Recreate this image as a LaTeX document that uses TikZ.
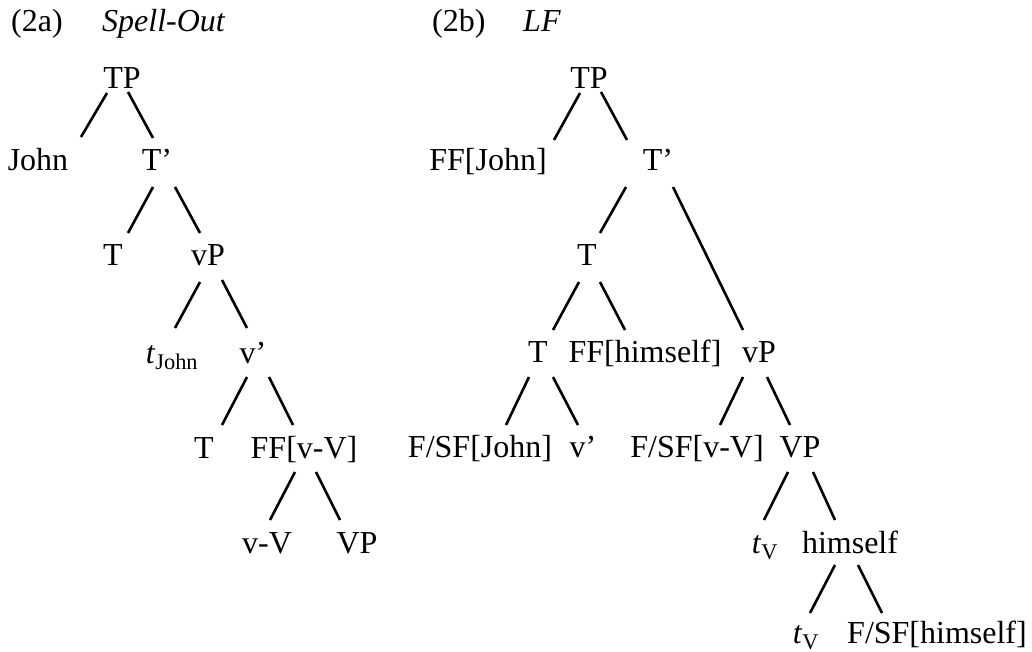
\documentclass[tikz,border=0pt]{standalone}
\usepackage{fontspec}
\setmainfont{Liberation Serif}
\usetikzlibrary{calc}
\tikzset{
  lbl/.style={anchor=base, inner sep=0pt, font=\fontsize{32}{38}\selectfont},
  hdr/.style={anchor=base west, inner sep=0pt, font=\fontsize{32}{38}\selectfont},
  branch/.style={line width=2.6pt, line cap=butt},
}
\newcommand\brl[4]{\draw[branch] ($(#1.base)+(#2)$) -- ($(#3.base)+(#4)$);}
\begin{document}
\begin{tikzpicture}[x=1pt,y=-1pt]
\useasboundingbox (0,0) rectangle (1032,652);
% headers
\node[hdr] (h2a) at (11,32) {(2a)};
\node[hdr] (hso) at (102,32) {\textit{Spell-Out}};
\node[hdr] (h2b) at (432,32) {(2b)};
\node[hdr] (hlf) at (523,32) {\textit{LF}};
% left tree
\node[lbl] (TPa) at (122,89) {TP};
\node[lbl] (John) at (38,171) {John};
\node[lbl] (Tpa) at (157,171) {T'};
\node[lbl] (Ta) at (113,265) {T};
\node[lbl] (vPa) at (208,265) {vP};
\node[lbl] (tJohn) at (172,363) {\textit{t}\textsubscript{John}};
\node[lbl] (vpa) at (253,363) {v'};
\node[lbl] (Ta2) at (204,458) {T};
\node[lbl] (FFvV) at (304,458) {FF[v-V]};
\node[lbl] (vV) at (267,553) {v-V};
\node[lbl] (VPa) at (357,553) {VP};
% right tree
\node[lbl] (TPb) at (589,89) {TP};
\node[lbl] (FFJohn) at (488,171) {FF[John]};
\node[lbl] (Tpb) at (658,171) {T'};
\node[lbl] (Tb) at (587,265) {T};
\node[lbl] (Tb2) at (538,362) {T};
\node[lbl] (FFhimself) at (645,362) {FF[himself]};
\node[lbl] (vPb) at (759,362) {vP};
\node[lbl] (FSFJohn) at (480,457) {F/SF[John]};
\node[lbl] (vpb) at (583,457) {v'};
\node[lbl] (FSFvV) at (697,457) {F/SF[v-V]};
\node[lbl] (VPb) at (800,457) {VP};
\node[lbl] (tV) at (765,553) {\textit{t}\textsubscript{V}};
\node[lbl] (himself) at (850,553) {himself};
\node[lbl] (tV2) at (806,643) {\textit{t}\textsubscript{V}};
\node[lbl] (FSFhimself) at (937,643) {F/SF[himself]};
% left branches
\brl{TPa}{-15,4}{John}{43,-34}
\brl{TPa}{6,3}{Tpa}{-4,-33}
\brl{Tpa}{-4,16}{Ta}{15,-32}
\brl{Tpa}{18,16}{vPa}{-8,-32}
\brl{vPa}{-8,17}{tJohn}{3,-35}
\brl{vPa}{14,15}{vpa}{-6,-35}
\brl{vpa}{-6,14}{Ta2}{18,-33}
\brl{vpa}{16,14}{FFvV}{-11,-33}
\brl{FFvV}{-9,14}{vV}{3,-33}
\brl{FFvV}{12,14}{VPa}{-17,-33}
% right branches
\brl{TPb}{-9,4}{FFJohn}{66,-31}
\brl{TPb}{12,3}{Tpb}{-31,-31}
\brl{Tpb}{-32,16}{Tb}{13,-32}
\brl{Tpb}{15,16}{vPb}{-16,-32}
\brl{Tb}{-8,17}{Tb2}{15,-32}
\brl{Tb}{13,17}{FFhimself}{-20,-32}
\brl{Tb2}{-9,15}{FSFJohn}{26,-32}
\brl{Tb2}{15,15}{vpb}{-5,-32}
\brl{vPb}{-16,15}{FSFvV}{23,-32}
\brl{vPb}{8,15}{VPb}{-10,-32}
\brl{VPb}{-12,15}{tV}{-1,-33}
\brl{VPb}{13,15}{himself}{-15,-33}
\brl{himself}{-15,12}{tV2}{4,-30}
\brl{himself}{8,12}{FSFhimself}{-55,-30}
\end{tikzpicture}
\end{document}
